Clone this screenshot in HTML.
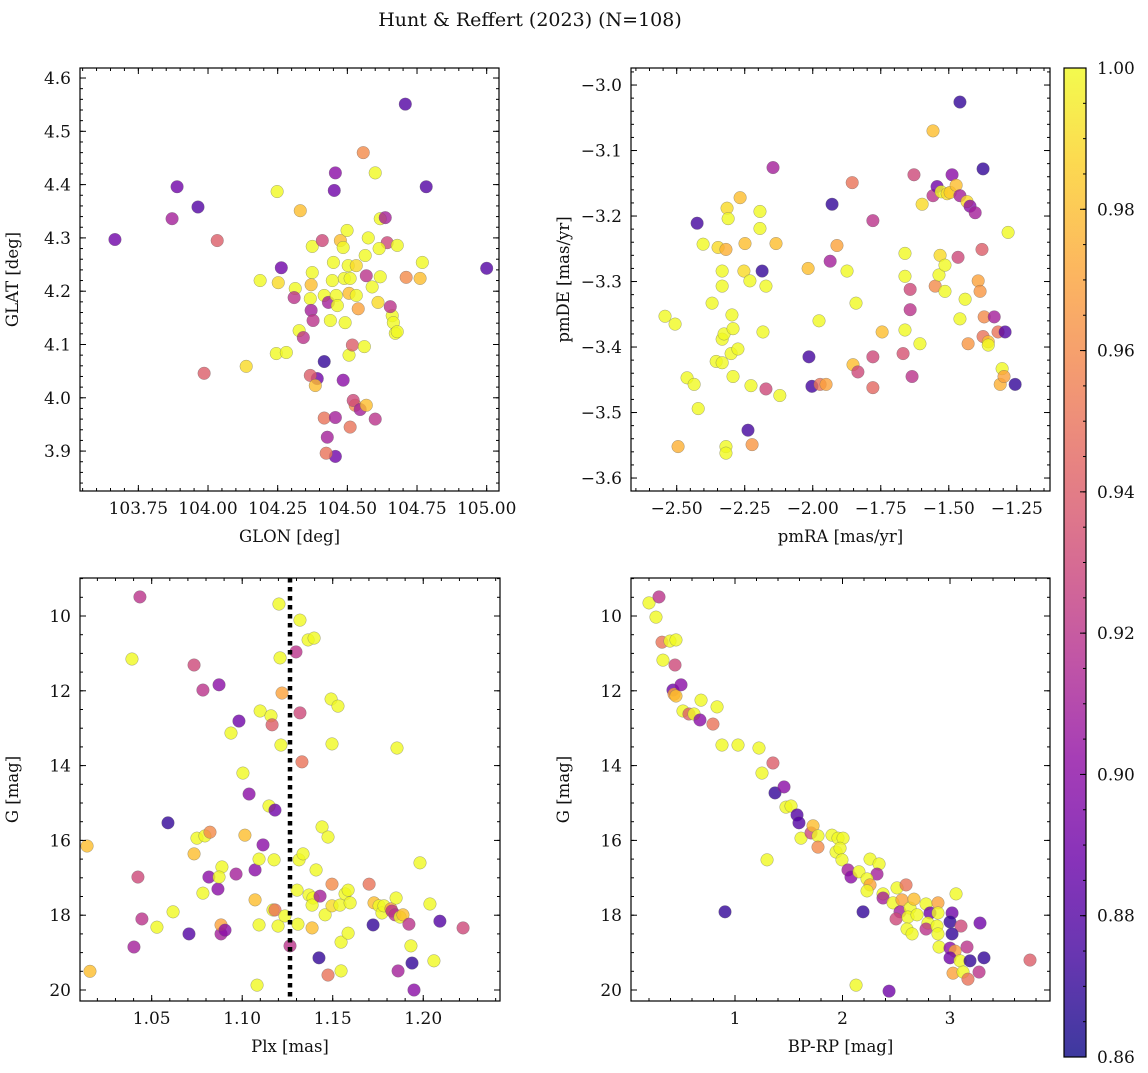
<!DOCTYPE html>
<html><head><meta charset="utf-8">
<style>
body{margin:0;background:#fff;}
svg text{font-family:"DejaVu Serif","Liberation Serif",serif;fill:#111;}
</style></head>
<body>
<svg id="fig" width="1148" height="1068" xmlns="http://www.w3.org/2000/svg">
<rect width="1148" height="1068" fill="#fff"/>
<text x="530" y="26" font-size="19" text-anchor="middle">Hunt &amp; Reffert (2023) (N=108)</text>
</svg>
<script>
// ---- Panel 1: GLON / GLAT ----
const p1Glon=[103.666,103.889,103.871,103.964,104.033,103.986,104.137,104.187,104.248,104.263,104.245,104.281,104.252,104.313,104.309,104.331,104.327,104.342,104.374,104.374,104.37,104.367,104.37,104.377,104.392,104.367,104.385,104.417,104.417,104.41,104.432,104.439,104.446,104.453,104.457,104.45,104.46,104.464,104.475,104.485,104.489,104.492,104.499,104.503,104.51,104.506,104.506,104.485,104.417,104.457,104.424,104.428,104.457,104.51,104.528,104.521,104.546,104.6,104.532,104.532,104.539,104.557,104.575,104.6,104.618,104.564,104.568,104.589,104.61,104.618,104.636,104.643,104.661,104.665,104.654,104.672,104.708,104.711,104.679,104.783,104.769,104.761,105.0,104.518,104.561,104.614,104.568,104.679];
const p1Glat=[4.297,4.396,4.336,4.358,4.295,4.046,4.059,4.220,4.387,4.244,4.083,4.085,4.216,4.205,4.188,4.351,4.126,4.113,4.284,4.235,4.212,4.186,4.164,4.145,4.036,4.042,4.023,4.068,4.192,4.295,4.179,4.145,4.220,4.389,4.422,4.254,4.192,4.173,4.295,4.282,4.224,4.141,4.314,4.248,4.224,4.196,4.080,4.033,3.962,3.890,3.896,3.926,3.963,3.945,3.986,3.995,3.978,3.960,4.248,4.192,4.167,4.460,4.300,4.422,4.336,4.267,4.229,4.208,4.179,4.227,4.338,4.291,4.154,4.141,4.171,4.121,4.551,4.226,4.286,4.396,4.254,4.224,4.243,4.099,4.096,4.280,3.986,4.124];
const p1Prob=[.89,.89,.91,.88,.94,.94,.99,1,1,.89,1,1,.99,1,.92,.98,1,.92,1,1,.98,1,.91,.92,.89,.94,.98,.87,1,.93,.91,1,1,.89,.9,1,1,1,.98,1,1,1,1,1,1,.98,1,.9,.95,.89,.95,.91,.91,.95,.96,.93,.91,.92,.99,1,.97,.96,1,1,1,1,.92,1,.99,1,.91,.93,1,1,.92,1,.88,.96,1,.88,1,.98,.88,.94,1,1,.98,1];
// ---- Panel 2: pmRA / pmDE ----
const p2Pmra=[-2.543,-2.506,-2.495,-2.425,-2.462,-2.436,-2.421,-2.403,-2.370,-2.348,-2.333,-2.333,-2.355,-2.333,-2.333,-2.326,-2.319,-2.315,-2.311,-2.319,-2.319,-2.297,-2.293,-2.300,-2.293,-2.275,-2.267,-2.249,-2.253,-2.231,-2.227,-2.238,-2.223,-2.194,-2.194,-2.186,-2.183,-2.172,-2.172,-2.121,-2.146,-2.135,-2.017,-2.014,-2.003,-1.977,-1.973,-1.951,-1.936,-1.929,-1.911,-1.874,-1.855,-1.852,-1.841,-1.834,-1.779,-1.779,-1.779,-1.745,-1.661,-1.661,-1.661,-1.642,-1.642,-1.635,-1.668,-1.628,-1.606,-1.598,-1.558,-1.558,-1.543,-1.550,-1.532,-1.536,-1.528,-1.506,-1.495,-1.514,-1.514,-1.488,-1.459,-1.473,-1.459,-1.433,-1.466,-1.440,-1.459,-1.422,-1.403,-1.429,-1.374,-1.378,-1.392,-1.385,-1.370,-1.374,-1.355,-1.355,-1.333,-1.319,-1.311,-1.304,-1.282,-1.297,-1.293,-1.256];
const p2Pmde=[-3.353,-3.365,-3.552,-3.211,-3.447,-3.457,-3.494,-3.243,-3.333,-3.248,-3.284,-3.307,-3.422,-3.424,-3.388,-3.380,-3.251,-3.188,-3.204,-3.552,-3.562,-3.351,-3.372,-3.410,-3.445,-3.403,-3.172,-3.242,-3.284,-3.299,-3.459,-3.527,-3.549,-3.193,-3.219,-3.284,-3.377,-3.307,-3.464,-3.474,-3.126,-3.242,-3.280,-3.415,-3.460,-3.360,-3.457,-3.457,-3.269,-3.182,-3.245,-3.284,-3.149,-3.427,-3.333,-3.438,-3.207,-3.415,-3.462,-3.377,-3.257,-3.292,-3.374,-3.312,-3.343,-3.445,-3.410,-3.137,-3.395,-3.182,-3.070,-3.169,-3.155,-3.307,-3.260,-3.290,-3.163,-3.166,-3.164,-3.275,-3.315,-3.137,-3.026,-3.153,-3.169,-3.178,-3.263,-3.327,-3.357,-3.185,-3.195,-3.395,-3.128,-3.251,-3.299,-3.315,-3.354,-3.384,-3.392,-3.397,-3.354,-3.377,-3.457,-3.433,-3.225,-3.445,-3.377,-3.457];
const p2Prob=[1,1,.975,.875,1,1,1,1,1,.99,1,1,1,1,1,1,.975,.99,1,1,1,1,1,1,1,1,.98,.98,.99,1,1,.875,.965,1,1,.87,1,1,.93,1,.91,.98,.98,.875,.875,1,.95,.97,.91,.87,.97,1,.95,.98,1,.93,.92,.93,.945,.98,1,1,1,.93,.92,.92,.935,.93,1,.99,.98,.92,.89,.96,.99,1,1,.99,.985,1,1,.9,.87,.98,.91,.99,.93,1,1,.9,.91,.965,.87,.94,.97,.965,.96,.95,.98,1,.91,.95,.975,1,1,.97,.88,.87];
// ---- Panel 3: Plx / G ----
const p3Plx=[1.0143,1.0159,1.0435,1.0391,1.0424,1.0446,1.0402,1.0529,1.0590,1.0618,1.0706,1.0734,1.0734,1.0750,1.0783,1.0783,1.0794,1.0816,1.0822,1.0866,1.0872,1.0883,1.0883,1.0905,1.0888,1.0872,1.0938,1.0966,1.0982,1.1004,1.1015,1.1038,1.1071,1.1071,1.1082,1.1093,1.1093,1.1099,1.1115,1.1148,1.1159,1.1165,1.1170,1.1176,1.1181,1.1181,1.1198,1.1209,1.1214,1.1220,1.1203,1.1236,1.1264,1.1297,1.1303,1.1308,1.1319,1.1319,1.1330,1.1314,1.1336,1.1364,1.1397,1.1369,1.1391,1.1386,1.1386,1.1408,1.1424,1.1441,1.1430,1.1458,1.1474,1.1474,1.1491,1.1496,1.1496,1.1496,1.1529,1.1540,1.1546,1.1546,1.1568,1.1585,1.1585,1.1596,1.1701,1.1723,1.1728,1.1756,1.1772,1.1783,1.1822,1.1827,1.1844,1.1850,1.1855,1.1861,1.1872,1.1888,1.1921,1.1932,1.1938,1.1949,1.1982,1.2037,1.2059,1.2092,1.2220];
const p3G=[16.15,19.5,9.49,11.15,16.98,18.10,18.85,18.32,15.53,17.91,18.50,11.31,16.36,15.94,11.98,17.41,15.88,16.98,15.78,17.30,11.84,18.50,18.26,18.40,16.71,16.98,13.13,16.90,12.81,14.20,15.86,14.76,16.79,17.59,19.87,18.26,16.50,12.54,16.12,15.08,12.67,12.91,17.86,16.52,15.19,17.86,18.29,11.12,13.45,12.06,9.68,18.02,18.82,10.96,17.33,18.24,10.11,12.59,13.90,16.52,16.36,10.64,10.59,17.46,17.54,17.73,18.34,16.79,19.14,15.64,17.49,17.99,19.6,15.91,12.22,13.42,17.17,17.75,12.41,17.73,18.72,19.49,17.43,17.33,18.48,17.67,17.17,18.26,17.67,17.75,17.94,17.75,17.83,17.89,17.99,17.54,13.53,19.49,18.05,17.99,18.24,18.82,19.28,20.0,16.60,17.7,19.22,18.16,18.34];
const p3Prob=[.98,.98,.92,1,.93,.92,.91,1,.87,1,.88,.93,.98,1,.92,1,1,.9,.96,.9,.9,.91,.97,.9,1,1,1,.91,.89,1,.98,.9,.9,.98,1,1,1,1,.9,1,1,.94,1,1,.89,.95,1,1,1,.97,1,1,.92,.92,1,1,1,.93,.95,1,1,1,1,1,1,1,.98,1,.87,1,.91,1,.95,1,1,1,.96,.99,1,1,1,1,1,1,1,1,.95,.87,.98,1,1,1,.97,.92,.92,1,1,.91,1,.98,.92,1,.87,.9,1,1,1,.88,.93];
const p3PlxLine=1.1264;
// ---- Panel 4: BP-RP / G ----
const p4Bprp=[0.200,0.293,0.265,0.321,0.330,0.395,0.451,0.442,0.423,0.433,0.451,0.498,0.516,0.572,0.619,0.674,0.684,0.795,0.833,0.879,0.907,1.028,1.223,1.251,1.353,1.298,1.372,1.456,1.474,1.521,1.577,1.595,1.614,1.707,1.726,1.772,1.772,1.902,1.940,1.958,2.005,1.977,
1.995,2.051,2.079,2.153,2.256,2.340,2.321,2.228,2.256,2.228,2.191,2.126,2.433,2.377,2.377,2.470,2.507,2.591,2.553,2.535,2.498,2.628,2.665,2.609,2.693,2.600,2.647,2.777,2.814,2.795,2.777,2.888,2.888,2.879,2.888,3.056,3.019,3.000,3.102,3.279,3.019,2.898,3.000,3.047,3.158,3.000,3.093,3.186,3.316,3.028,3.121,3.270,3.167,3.744];
const p4G=[9.65,9.49,10.03,10.70,11.18,10.67,10.64,11.31,11.98,12.09,12.14,11.84,12.54,12.62,12.62,12.78,12.25,12.89,12.43,13.45,17.91,13.45,13.53,14.20,13.93,16.52,14.73,14.57,15.11,15.08,15.32,15.53,15.94,15.80,15.61,15.88,16.18,15.86,16.31,15.94,15.94,16.21,
16.52,16.79,16.98,16.84,16.50,16.63,16.90,17.03,17.19,17.35,17.91,19.87,20.03,17.43,17.54,17.67,17.27,17.19,17.59,17.91,18.10,17.81,17.57,18.05,17.99,18.37,18.50,17.70,17.94,18.21,18.37,17.67,17.94,18.29,18.50,17.43,17.94,18.18,18.29,18.21,18.50,18.85,18.88,18.96,18.85,19.14,19.22,19.22,19.14,19.55,19.52,19.52,19.71,19.20];
const p4Prob=[1,.92,1,.95,1,1,1,.93,.89,.97,.98,.9,1,.94,1,.9,1,.95,1,1,.87,1,1,1,.94,1,.87,.9,1,1,.88,.88,1,.93,.98,1,.96,1,1,1,1,1,
1,.91,.9,1,1,1,.91,1,.97,1,.87,1,.89,1,.91,1,1,.95,.97,.91,.93,1,.98,1,1,1,1,1,.89,1,.92,.97,1,1,1,1,.89,.87,.93,.89,.87,1,.9,.97,.92,.89,1,.87,.87,.97,1,.92,.95,.94];
// ---- axis tick labels ----
const p1XTicks=[103.75,104.00,104.25,104.50,104.75,105.00];
const p1YTicks=[3.9,4.0,4.1,4.2,4.3,4.4,4.5,4.6];
const p2XTicks=[-2.50,-2.25,-2.00,-1.75,-1.50,-1.25];
const p2YTicks=[-3.6,-3.5,-3.4,-3.3,-3.2,-3.1,-3.0];
const p3XTicks=[1.05,1.10,1.15,1.20];
const gTicks=[10,12,14,16,18,20];
const p4XTicks=[1,2,3];
const cbTicks=[0.86,0.88,0.90,0.92,0.94,0.96,0.98,1.00];

const NS="http://www.w3.org/2000/svg";
const svg=document.getElementById('fig');
function mk(tag,attrs,parent){const e=document.createElementNS(NS,tag);for(const k in attrs)e.setAttribute(k,attrs[k]);(parent||svg).appendChild(e);return e;}
const stops=[[13,8,135],[65,4,157],[106,0,168],[143,13,164],[177,42,144],[204,71,120],[225,100,98],[242,132,75],[252,166,54],[252,206,37],[240,249,33]];
function plasma(t){t=Math.max(0,Math.min(1,t));const f=t*10,i=Math.min(9,Math.floor(f)),r=f-i;const a=stops[i],b=stops[i+1];return `rgb(${a.map((v,k)=>Math.round(v+(b[k]-v)*r)).join(',')})`;}
const cmin=0.86,cmax=1.0;
const FS=17;
function fmt(v,d){return (v<0?'\u2212':'')+Math.abs(v).toFixed(d);}

function panel(o){
  const g=mk('g',{});
  
  
  const sx=v=>o.L+(v-o.x0)/(o.x1-o.x0)*(o.R-o.L);
  const sy=v=>o.B-(v-o.y0)/(o.y1-o.y0)*(o.B-o.T);
  const clip='clip-'+o.name;
  const cp=mk('clipPath',{id:clip},g);mk('rect',{x:o.L,y:o.T,width:o.R-o.L,height:o.B-o.T},cp);
  const pts=mk('g',{'clip-path':`url(#${clip})`},g);
  for(let i=0;i<o.xs.length;i++){
    const c=mk('circle',{cx:sx(o.xs[i]),cy:sy(o.ys[i]),r:6.3,fill:plasma((o.cs[i]-cmin)/(cmax-cmin)),'fill-opacity':0.8,stroke:'#666','stroke-opacity':0.6,'stroke-width':0.5},pts);
    
    
  }
  if(o.vline!==undefined){
    const l=mk('line',{x1:sx(o.vline),x2:sx(o.vline),y1:o.T,y2:o.B,stroke:'#000','stroke-width':4.5,'stroke-dasharray':'4.5,4.5'},g);
    
    
  }
  const fr=mk('rect',{x:o.L,y:o.T,width:o.R-o.L,height:o.B-o.T,fill:'none',stroke:'#000','stroke-width':1.2},g);
  
  
  const tk=mk('g',{stroke:'#000','stroke-width':1},g);
  const xl=Math.min(o.x0,o.x1),xh=Math.max(o.x0,o.x1),yl=Math.min(o.y0,o.y1),yh=Math.max(o.y0,o.y1);
  for(let v=Math.ceil(xl/o.xm-1e-6)*o.xm;v<=xh+1e-9;v+=o.xm){const x=sx(v);mk('line',{x1:x,x2:x,y1:o.B,y2:o.B-3},tk);mk('line',{x1:x,x2:x,y1:o.T,y2:o.T+3},tk);}
  for(let v=Math.ceil(yl/o.ym-1e-6)*o.ym;v<=yh+1e-9;v+=o.ym){const y=sy(v);mk('line',{x1:o.L,x2:o.L+3,y1:y,y2:y},tk);mk('line',{x1:o.R,x2:o.R-3,y1:y,y2:y},tk);}
  o.xt.forEach(v=>{const x=sx(v);mk('line',{x1:x,x2:x,y1:o.B,y2:o.B-6},tk);mk('line',{x1:x,x2:x,y1:o.T,y2:o.T+6},tk);
    const t=mk('text',{x:x,y:o.B+23,'font-size':FS,'text-anchor':'middle'},g);t.textContent=fmt(v,o.xd);
    
    });
  o.yt.forEach(v=>{const y=sy(v);mk('line',{x1:o.L,x2:o.L+6,y1:y,y2:y},tk);mk('line',{x1:o.R,x2:o.R-6,y1:y,y2:y},tk);
    const t=mk('text',{x:o.L-9,y:y+6,'font-size':FS,'text-anchor':'end'},g);t.textContent=fmt(v,o.yd);
    
    });
  const xa=mk('text',{x:(o.L+o.R)/2,y:o.B+51,'font-size':16.5,'text-anchor':'middle'},g);xa.textContent=o.xlab;
  
  
  const yx=o.L-62,yc=(o.T+o.B)/2;
  const ya=mk('text',{x:yx,y:yc,'font-size':16.5,'text-anchor':'middle',transform:`rotate(-90 ${yx} ${yc})`},g);ya.textContent=o.ylab;
  
  
}
panel({name:'position-panel',L:80,R:499,T:68,B:491,x0:103.5406,x1:105.0442,y0:3.8251,y1:4.6188,xs:p1Glon,ys:p1Glat,cs:p1Prob,xt:p1XTicks,yt:p1YTicks,xd:2,yd:1,xm:0.05,ym:0.02,xlab:'GLON [deg]',ylab:'GLAT [deg]'});
panel({name:'proper-motion-panel',L:631,R:1050,T:68,B:491,x0:-2.668,x1:-1.128,y0:-3.6198,y1:-2.974,xs:p2Pmra,ys:p2Pmde,cs:p2Prob,xt:p2XTicks,yt:p2YTicks,xd:2,yd:1,xm:0.05,ym:0.02,xlab:'pmRA [mas/yr]',ylab:'pmDE [mas/yr]'});
panel({name:'parallax-panel',L:80,R:500,T:578,B:1001,x0:1.0104,x1:1.2424,y0:20.294,y1:8.984,xs:p3Plx,ys:p3G,cs:p3Prob,xt:p3XTicks,yt:gTicks,xd:2,yd:0,xm:0.01,ym:0.5,xlab:'Plx [mas]',ylab:'G [mag]',vline:p3PlxLine});
panel({name:'cmd-panel',L:631,R:1050,T:578,B:1001,x0:0.0326,x1:3.930,y0:20.294,y1:8.984,xs:p4Bprp,ys:p4G,cs:p4Prob,xt:p4XTicks,yt:gTicks,xd:0,yd:0,xm:0.2,ym:0.5,xlab:'BP-RP [mag]',ylab:'G [mag]'});

// colorbar
(function(){
  const L=1064,R=1086,T=68,B=1057;
  const cg=mk('g',{});
  
  
  const defs=mk('defs',{},cg);
  const lg=mk('linearGradient',{id:'cbg',x1:0,y1:1,x2:0,y2:0},defs);
  for(let i=0;i<=20;i++){mk('stop',{offset:i/20,'stop-color':plasma(i/20),'stop-opacity':0.8},lg);}
  mk('rect',{x:L,y:T,width:R-L,height:B-T,fill:'url(#cbg)',stroke:'#000','stroke-width':1.2},cg);
  const sy=v=>B-(v-cmin)/(cmax-cmin)*(B-T);
  for(let v=cmin;v<=cmax+1e-9;v+=0.005){mk('line',{x1:R,x2:R-3,y1:sy(v),y2:sy(v),stroke:'#000'},cg);}
  cbTicks.forEach(v=>{const y=sy(v);mk('line',{x1:R,x2:R-6,y1:y,y2:y,stroke:'#000'},cg);
    const t=mk('text',{x:R+11,y:y+6,'font-size':FS},cg);t.textContent=v.toFixed(2);
    
    });
})();
</script>
</body></html>
